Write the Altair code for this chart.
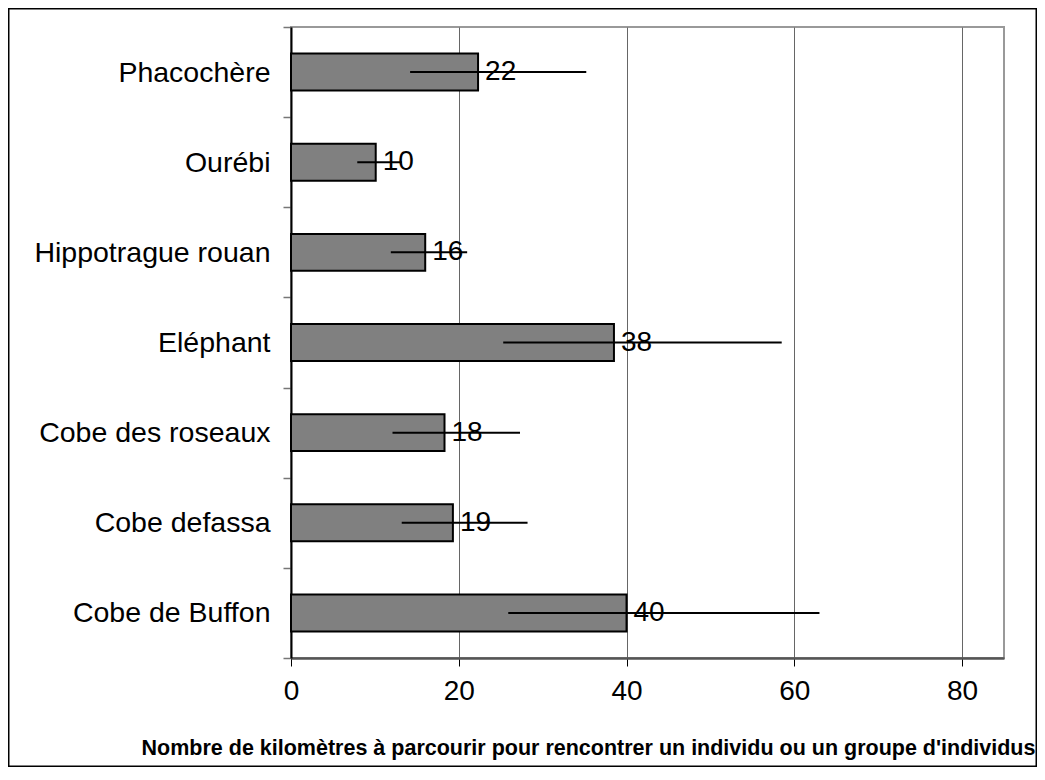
import altair as alt
import pandas as pd

species = ["Phacochère", "Ourébi", "Hippotrague rouan", "Eléphant",
           "Cobe des roseaux", "Cobe defassa", "Cobe de Buffon"]
values = [22.3, 10.1, 16.0, 38.5, 18.3, 19.3, 40.0]
err_lo = [14.2, 7.9, 11.9, 25.3, 12.1, 13.2, 25.9]
err_hi = [35.2, 13.2, 21.0, 58.5, 27.3, 28.2, 63.0]
labels = ["22", "10", "16", "38", "18", "19", "40"]
x_ticks = [0, 20, 40, 60, 80]

df = pd.DataFrame({"esp": species, "val": values, "lo": err_lo,
                   "hi": err_hi, "lab": labels})

FONT = "Liberation Sans"
W, H = 713, 631
PL, PT, PR, PB = 283, 19, 33, 109

xscale = alt.Scale(domain=[0, 85], nice=False, zero=True)
yscale = alt.Scale(paddingInner=0, paddingOuter=0)

xenc = alt.X("val:Q", scale=xscale,
             axis=alt.Axis(values=x_ticks, title="Nombre de kilomètres à parcourir pour rencontrer un individu ou un groupe d'individus",
                           grid=True, gridColor="#666", gridWidth=1,
                           domainColor="#555", domainWidth=2.5,
                           tickColor="#000", tickSize=8, tickWidth=1,
                           labelFont=FONT, labelFontSize=28, labelColor="#000",
                           labelPadding=11, labelFlush=False,
                           titleFont=FONT, titleFontSize=21.5, titleFontWeight="bold",
                           titleColor="#000", titleX=297, titleY=96,
                           titleAlign="center", titleBaseline="alphabetic",
                           titleAnchor="middle", titleLimit=0))
yenc = alt.Y("esp:N", sort=species, scale=yscale,
             axis=alt.Axis(title=None, tickBand="extent", grid=False,
                           domainColor="#000", domainWidth=2,
                           tickColor="#777", tickSize=8, tickWidth=1.5,
                           labelFont=FONT, labelFontSize=28.5, labelColor="#000",
                           labelPadding=13, labelLimit=0))

base = alt.Chart(df)

bars = base.mark_bar(height={"band": 0.41}, color="#808080", stroke="#000",
                     strokeWidth=2).encode(x=xenc, y=yenc)
text = base.mark_text(align="left", baseline="middle", dx=7, font=FONT,
                      fontSize=28, color="#000").encode(
    x=alt.X("val:Q", scale=xscale), y=alt.Y("esp:N", sort=species, scale=yscale),
    text="lab:N")
errs = base.mark_rule(color="#000", strokeWidth=2).encode(
    x=alt.X("lo:Q", scale=xscale), x2="hi:Q",
    y=alt.Y("esp:N", sort=species, scale=yscale))

frame = alt.Chart(pd.DataFrame({"a": [0]})).mark_rect(
    fill=None, stroke="#000", strokeWidth=1.5, clip=False).encode(
    x=alt.value(-PL + 0.75), x2=alt.value(W + PR - 0.75),
    y=alt.value(-PT + 0.75), y2=alt.value(H + PB - 0.75))

chart = alt.layer(bars, text, errs, frame).properties(
    width=W, height=H,
    autosize=alt.AutoSizeParams(type="none"),
    padding={"left": PL, "top": PT, "right": PR, "bottom": PB},
    background="#ffffff",
).configure_view(stroke="#999", strokeWidth=2)

chart.save("out.html", embed_options={"renderer": "svg", "actions": False})
